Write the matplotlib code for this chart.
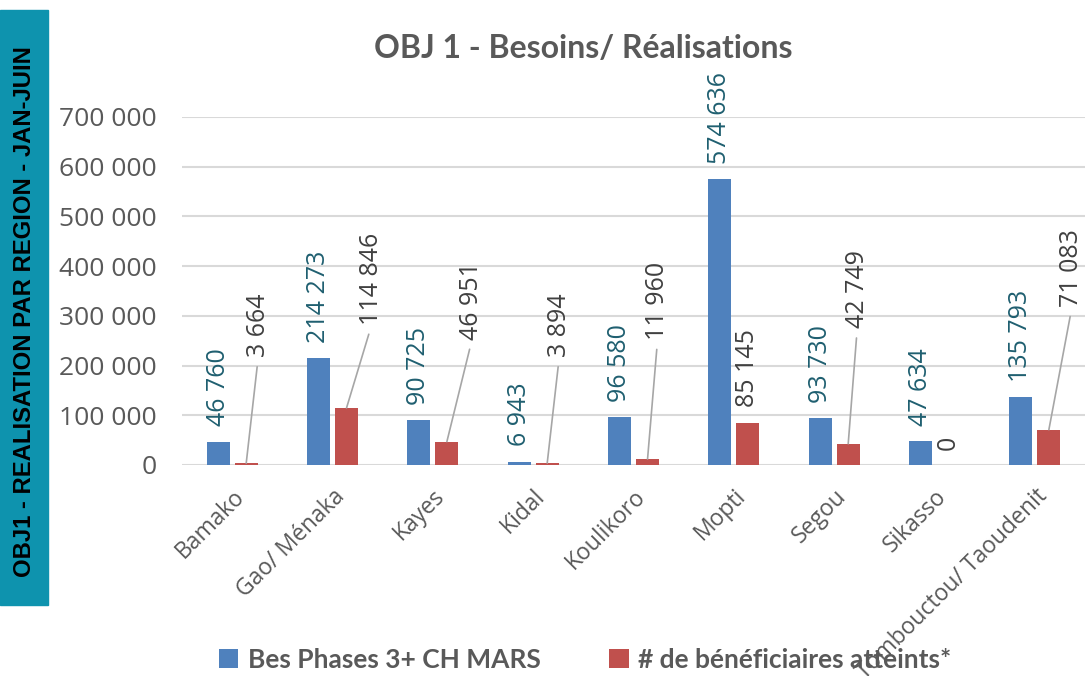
import matplotlib.pyplot as plt
import matplotlib.patches as mpatches
import numpy as np

# data
regions = ["Bamako", "Gao/ Ménaka", "Kayes", "Kidal", "Koulikoro",
           "Mopti", "Segou", "Sikasso", "Tombouctou/ Taoudenit"]
besoins = [46760, 214273, 90725, 6943, 96580, 574636, 93730, 47634, 135793]
atteints = [3664, 114846, 46951, 3894, 11960, 85145, 42749, 0, 71083]
yticks = [0, 100000, 200000, 300000, 400000, 500000, 600000, 700000]

# placement of the red labels that sit on a leader line (None = just above bar)
red_lab_y = [217000, 282000, 252000, 217000, 252000, None, 275000, None, 318000]
red_lab_dx = [0.12, 0.25, 0.25, 0.12, 0.10, 0, 0.09, 0, 0.23]

BLUE = "#4F81BD"
RED = "#C0504D"
GREY = "#595959"


def fmt(v):
    return f"{v:,}".replace(",", " ")


fig = plt.figure(figsize=(10.89, 6.76), dpi=100)
ax = fig.add_axes([182 / 1089, 1 - 465 / 676, (1085 - 182) / 1089, (465 - 117) / 676])

x = np.arange(len(regions))
w = 0.23
off = 0.14
b1 = ax.bar(x - off, besoins, w, color=BLUE, label="Bes Phases 3+ CH MARS", zorder=3)
b2 = ax.bar(x + off, atteints, w, color=RED, label="# de bénéficiaires atteints*", zorder=3)

ax.set_xlim(-0.5, len(regions) - 0.5)
ax.set_ylim(0, 700000)
ax.set_yticks(yticks)
ax.set_yticklabels([fmt(t) for t in yticks], fontsize=19, color=GREY, family="Open Sans")
ax.yaxis.grid(True, color="#D9D9D9", lw=1.5, zorder=0)
ax.set_axisbelow(True)
for s in ax.spines.values():
    s.set_visible(False)
ax.tick_params(axis="both", length=0)
ax.tick_params(axis="y", pad=18)
ax.set_xticks(x)
ax.set_xticklabels(regions, rotation=45, ha="right", rotation_mode="anchor",
                   fontsize=16.5, color=GREY, family="Open Sans")
ax.tick_params(axis="x", pad=14)

# value labels
for xi, v in zip(x, besoins):
    ax.annotate(fmt(v), (xi - off, v), xytext=(0, 11), textcoords="offset points",
                rotation=90, ha="center", va="bottom", fontsize=18,
                color="#1F5F70", family="Open Sans")

for xi, v, ly, dx in zip(x, atteints, red_lab_y, red_lab_dx):
    if ly is None:
        ax.annotate(fmt(v), (xi + off, v), xytext=(0, 11), textcoords="offset points",
                    rotation=90, ha="center", va="bottom", fontsize=18,
                    color="#404040", family="Open Sans")
    else:
        ax.annotate(fmt(v), (xi + off, v), xytext=(xi + off + dx, ly),
                    textcoords="data", rotation=90, ha="center", va="bottom",
                    fontsize=18, color="#404040", family="Open Sans",
                    arrowprops=dict(arrowstyle="-", color="#A6A6A6", lw=1.2,
                                    shrinkA=5, shrinkB=0, relpos=(0.5, 0)))

fig.text(583 / 1089, 1 - 48 / 676, "OBJ 1 - Besoins/ Réalisations", ha="center",
         va="center", fontsize=23, fontweight="bold", color=GREY, family="Lato")

# side banner
fig.patches.append(mpatches.Rectangle((0, 1 - 605 / 676), 48 / 1089, 595 / 676,
                                      transform=fig.transFigure, color="#0E93AE",
                                      zorder=0))
fig.text(25 / 1089, 1 - 312 / 676, "OBJ1 - REALISATION PAR REGION - JAN-JUIN",
         rotation=90, ha="center", va="center", fontsize=17.2, fontweight="bold",
         color="black", family="Liberation Sans")

leg = fig.legend(handles=[b1, b2], loc="center", bbox_to_anchor=(585 / 1089, 1 - 660 / 676),
                 ncol=2, frameon=False, handlelength=0.75, handleheight=0.75,
                 handletextpad=0.35, columnspacing=2.6,
                 prop={"family": "Lato", "weight": "bold", "size": 19})
for t in leg.get_texts():
    t.set_color(GREY)

fig.savefig("out.png", dpi=100)
